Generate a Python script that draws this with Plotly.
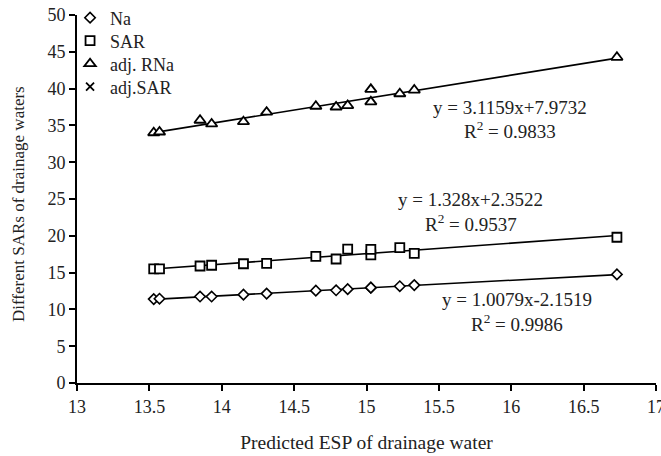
import numpy as np
import plotly.graph_objects as go

# Predicted ESP of drainage water (x)
esp = [13.53, 13.57, 13.85, 13.93, 14.15, 14.31, 14.65, 14.79, 14.87, 15.03, 15.03, 15.23, 15.33, 16.73]

# Series values
na = [11.4, 11.45, 11.75, 11.75, 12.0, 12.15, 12.55, 12.6, 12.75, 12.95, 12.95, 13.15, 13.3, 14.75]
sar = [15.5, 15.5, 15.9, 16.0, 16.2, 16.25, 17.2, 16.85, 18.2, 17.4, 18.15, 18.4, 17.6, 19.8]
adj_rna = [34.0, 34.1, 35.7, 35.2, 35.5, 36.8, 37.6, 37.5, 37.7, 39.9, 38.2, 39.3, 39.8, 44.25]

x_ticks = [13, 13.5, 14, 14.5, 15, 15.5, 16, 16.5, 17]
y_ticks = [0, 5, 10, 15, 20, 25, 30, 35, 40, 45, 50]

eq_texts = [
    ("y = 3.1159x+7.9732", "R<sup>2</sup> = 0.9833"),
    ("y = 1.328x+2.3522", "R<sup>2</sup> = 0.9537"),
    ("y = 1.0079x-2.1519", "R<sup>2</sup> = 0.9986"),
]

FONT = "Liberation Serif"
TXT = "#222"

fig = go.Figure()

def add_trend(ys):
    xs = np.array(esp)
    m, c = np.polyfit(xs, np.array(ys), 1)
    xl = [xs.min(), xs.max()]
    fig.add_trace(go.Scatter(x=xl, y=[m * v + c for v in xl], mode="lines",
                             line=dict(color="black", width=1.6), showlegend=False,
                             hoverinfo="skip"))

for ys in (na, sar, adj_rna):
    add_trend(ys)

fig.add_trace(go.Scatter(x=esp, y=na, mode="markers", name="Na", legend="legend",
                         marker=dict(symbol="diamond", size=8, color="white",
                                     line=dict(color="black", width=1.6))))
fig.add_trace(go.Scatter(x=esp, y=sar, mode="markers", name="SAR", legend="legend2",
                         marker=dict(symbol="square", size=9, color="white",
                                     line=dict(color="black", width=1.8))))
fig.add_trace(go.Scatter(x=esp, y=adj_rna, mode="markers", name="adj. RNa", legend="legend3",
                         marker=dict(symbol="triangle-up", size=10, color="white",
                                     line=dict(color="black", width=1.8))))
fig.add_trace(go.Scatter(x=[None], y=[None], mode="markers", name="adj.SAR", legend="legend4",
                         marker=dict(symbol="x-thin", size=8, color="black",
                                     line=dict(color="black", width=1.8))))

# (x, y of first line, y of second line) in data coordinates
ann_pos = [(15.99, 37.5, 34.4), (15.72, 24.9, 21.8), (16.04, 11.3, 8.1)]
for (l1, l2), (ax, ay1, ay2) in zip(eq_texts, ann_pos):
    fig.add_annotation(x=ax, y=ay1, text=l1, showarrow=False,
                       font=dict(family=FONT, size=19, color=TXT), xanchor="center")
    fig.add_annotation(x=ax, y=ay2, text=l2, showarrow=False,
                       font=dict(family=FONT, size=19, color=TXT), xanchor="center")

# y-axis title as annotation so it can sit slightly below centre as in the reference
fig.add_annotation(xref="paper", yref="paper", x=(18 - 77) / 579, y=(383 - 204) / 368,
                   text="Different SARs of drainage waters", textangle=-90, showarrow=False,
                   font=dict(family=FONT, size=17, color=TXT), xanchor="center", yanchor="middle")

def leg(yc):
    return dict(x=-0.012, y=(383 - yc) / 368, xanchor="left", yanchor="middle",
                bgcolor="rgba(0,0,0,0)", font=dict(family=FONT, size=18, color=TXT),
                itemwidth=30)

fig.update_layout(
    width=661, height=456,
    margin=dict(l=77, r=5, t=15, b=73, autoexpand=False),
    paper_bgcolor="white", plot_bgcolor="white",
    font=dict(family=FONT, size=18, color=TXT),
    showlegend=True,
    legend=leg(18), legend2=leg(41), legend3=leg(64), legend4=leg(87),
    xaxis=dict(range=[13, 17], tickvals=x_ticks, ticktext=[f"{v:g}" for v in x_ticks],
               showgrid=False, zeroline=False, showline=True, linecolor="black", linewidth=2,
               ticks="outside", ticklen=6, tickwidth=2, tickcolor="black",
               tickfont=dict(size=18), ticklabeloverflow="allow", automargin=False,
               title=dict(text="Predicted ESP of drainage water", font=dict(size=19.5), standoff=20)),
    yaxis=dict(range=[0, 50], tickvals=y_ticks, automargin=False,
               showgrid=False, zeroline=False, showline=True, linecolor="black", linewidth=2,
               ticks="outside", ticklen=6, tickwidth=2, tickcolor="black",
               tickfont=dict(size=18)),
)

fig.write_html("out.html")
